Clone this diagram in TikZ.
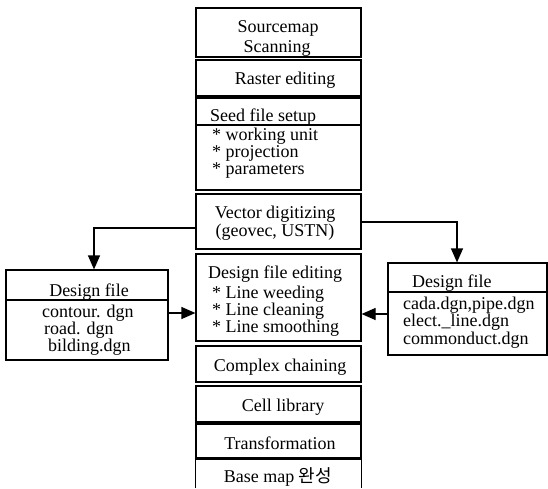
\documentclass[tikz,border=0pt]{standalone}
\usepackage{fontspec}
\setmainfont{Liberation Serif}
\newfontfamily\krfont{Noto Sans CJK KR}
\usetikzlibrary{arrows.meta}
\begin{document}
\begin{tikzpicture}[x=1pt,y=-1pt,
  box/.style={draw, line width=1.2pt, inner sep=0pt},
  divider/.style={line width=1.2pt},
  t/.style={inner sep=0pt, font=\fontsize{18}{20}\selectfont, anchor=mid},
  tl/.style={t, anchor=mid west},
  conn/.style={line width=1.2pt, -{Triangle[length=14pt,width=12pt]}}]
\useasboundingbox (0,0) rectangle (548,488);

% centre column boxes
\node[box, minimum width=165pt, minimum height=49pt] (src)   at (278.5,32.5) {};
\node[box, minimum width=165pt, minimum height=36pt] (ras)   at (278.5,78)   {};
\node[box, minimum width=165pt, minimum height=92pt] (seed)  at (278.5,144)  {};
\node[box, minimum width=165pt, minimum height=55pt] (vec)   at (278.5,221.5){};
\node[box, minimum width=165pt, minimum height=87pt] (edit)  at (278.5,297.5){};
\node[box, minimum width=165pt, minimum height=36pt] (cpx)   at (278.5,364)  {};
\node[box, minimum width=165pt, minimum height=36pt] (cell)  at (278.5,404)  {};
\node[box, minimum width=165pt, minimum height=34pt] (trans) at (278.5,441)  {};
\node[inner sep=0pt, minimum width=165pt, minimum height=28pt] (base) at (278.5,474) {};
\draw[divider] (base.south west) -- (base.north west) -- (base.north east) -- (base.south east);
\draw[divider] (seed.west |- 0,125) -- (seed.east |- 0,125);

% side boxes
\node[box, minimum width=162pt, minimum height=90pt] (lbox) at (87,315) {};
\draw[divider] (lbox.west |- 0,300) -- (lbox.east |- 0,300);
\node[box, minimum width=159pt, minimum height=92pt] (rbox) at (467.5,309) {};
\draw[divider] (rbox.west |- 0,292) -- (rbox.east |- 0,292);

% texts
\node[t] (t1a) at (278,30) {Sourcemap};
\node[t] (t1b) at (277,50) {Scanning};
\node[t] (t2) at (285,82) {Raster editing};
\node[tl] (t3) at (210,119) {Seed file setup};
\node[tl] (t3a) at (212,138) {* working unit};
\node[tl] (t3b) at (212,155) {* projection};
\node[tl] (t3c) at (212,172) {* parameters};
\node[t] (t4a) at (275,216) {Vector digitizing};
\node[t] (t4b) at (275,234) {(geovec, USTN)};
\node[tl] (t5) at (208,276) {Design file editing};
\node[tl] (t5a) at (212,296) {* Line weeding};
\node[tl] (t5b) at (212,313) {* Line cleaning};
\node[tl] (t5c) at (212,330) {* Line smoothing};
\node[t] (t6) at (280,369) {Complex chaining};
\node[t] (t7) at (283,409) {Cell library};
\node[t] (t8) at (280,447) {Transformation};
\node[t] (t9) at (278,480) {Base map {\krfont 완성}};

\node[t] (l0) at (89,294) {Design file};
\node[tl] (l1) at (42,315) {contour. dgn};
\node[tl] (l2) at (44,332) {road. dgn};
\node[tl] (l3) at (48,349) {bilding.dgn};

\node[tl] (r0) at (412,285) {Design file};
\node[tl] (r1) at (403,307) {cada.dgn,pipe.dgn};
\node[tl] (r2) at (403,324) {elect.\_line.dgn};
\node[tl] (r3) at (403,342) {commonduct.dgn};

% connectors
\draw[conn] (vec.west |- 0,228) -| (lbox.north -| 94,0);
\draw[conn] (vec.east |- 0,222) -| (rbox.north -| 457,0);
\draw[conn] (lbox.east |- 0,313) -- (edit.west |- 0,313);
\draw[conn] (rbox.west |- 0,314) -- (edit.east |- 0,314);
\end{tikzpicture}
\end{document}
